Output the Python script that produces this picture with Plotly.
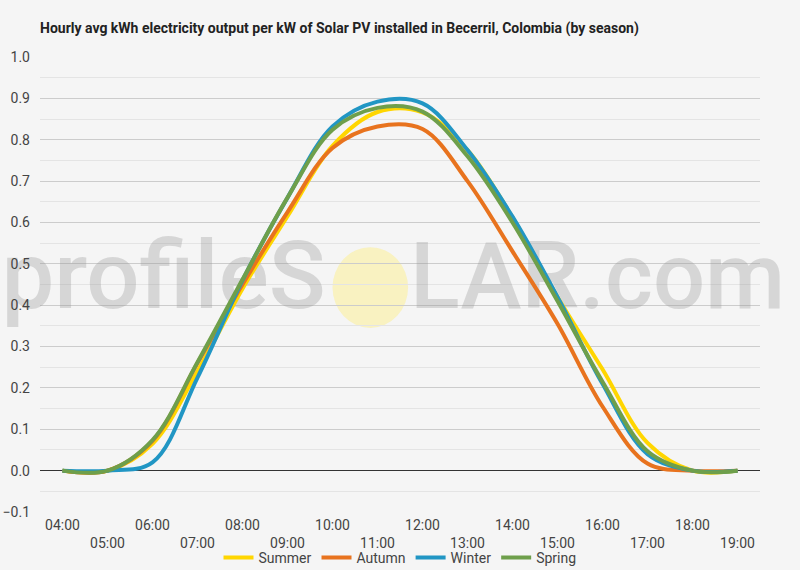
import plotly.graph_objects as go

hours = ["04:00", "05:00", "06:00", "07:00", "08:00", "09:00", "10:00", "11:00",
         "12:00", "13:00", "14:00", "15:00", "16:00", "17:00", "18:00", "19:00"]

summer = [0.0, 0.0, 0.065, 0.24, 0.44, 0.615, 0.785, 0.867, 0.866, 0.775, 0.612, 0.42, 0.245, 0.067, 0.0, 0.0]
autumn = [0.0, 0.0, 0.072, 0.26, 0.45, 0.625, 0.78, 0.832, 0.826, 0.70, 0.53, 0.355, 0.155, 0.017, 0.0, 0.0]
winter = [0.0, 0.0, 0.02, 0.225, 0.46, 0.66, 0.832, 0.892, 0.888, 0.775, 0.614, 0.42, 0.21, 0.04, 0.0, 0.0]
spring = [0.0, 0.0, 0.074, 0.262, 0.462, 0.66, 0.824, 0.877, 0.868, 0.76, 0.60, 0.41, 0.215, 0.047, 0.0, 0.0]

series = [("Summer", summer, "#FFD600"),
          ("Autumn", autumn, "#E8731E"),
          ("Winter", winter, "#2196C4"),
          ("Spring", spring, "#6E9F4B")]

y_ticks = [-0.1, 0.0, 0.1, 0.2, 0.3, 0.4, 0.5, 0.6, 0.7, 0.8, 0.9, 1.0]

xidx = list(range(len(hours)))
even_idx = xidx[0::2]
odd_idx = xidx[1::2]

fig = go.Figure()

# watermark (drawn first so the data lines sit on top)
wm_color = "rgba(150,150,150,0.32)"
fig.add_trace(go.Scatter(x=[5.85], y=[0.45], mode="text", text=["profileS"],
                         textposition="middle left", hoverinfo="skip", showlegend=False,
                         cliponaxis=False,
                         textfont=dict(family="Roboto", size=94, color=wm_color, weight=500)))
fig.add_trace(go.Scatter(x=[7.72], y=[0.45], mode="text", text=["LAR.com"],
                         textposition="middle right", hoverinfo="skip", showlegend=False,
                         cliponaxis=False,
                         textfont=dict(family="Roboto", size=92, color=wm_color, weight=500)))

for name, vals, color in series:
    fig.add_trace(go.Scatter(x=xidx, y=vals, name=name, mode="lines",
                             line=dict(color=color, width=4, shape="spline", smoothing=1.0)))

# invisible carrier so the second (staggered) hour-label axis is drawn
fig.add_trace(go.Scatter(x=odd_idx, y=[None] * len(odd_idx), xaxis="x2", yaxis="y",
                         mode="lines", hoverinfo="skip", showlegend=False))

fig.add_shape(type="circle", xref="x", yref="y", layer="below",
              x0=6.0, x1=7.68, y0=0.54, y1=0.345,
              fillcolor="rgba(250,240,175,0.75)", line=dict(width=0))

fig.update_layout(
    width=800, height=570,
    margin=dict(l=40, r=40, t=57, b=58, autoexpand=False),
    paper_bgcolor="#f5f5f5", plot_bgcolor="#f5f5f5",
    font=dict(family="Roboto", size=14, color="#444"),
    title=dict(text="<b>Hourly avg kWh electricity output per kW of Solar PV installed in Becerril, Colombia (by season)</b>",
               x=40 / 800, xref="container", xanchor="left",
               y=1 - 28 / 570, yref="container", yanchor="middle",
               font=dict(family="Roboto", size=14, color="#222")),
    showlegend=True,
    legend=dict(orientation="h", x=0.5, xref="container", xanchor="center",
                y=(570 - 558) / 570, yref="container", yanchor="middle",
                font=dict(size=14, color="#444"), bgcolor="rgba(0,0,0,0)",
                itemwidth=30, traceorder="normal"),
    xaxis=dict(range=[-0.5, 15.5], tickmode="array", tickvals=even_idx,
               ticktext=[hours[i] for i in even_idx],
               showgrid=False, zeroline=False, showline=False, ticks="",
               ticklabelstandoff=3, automargin=False,
               tickfont=dict(size=14, color="#444"), fixedrange=True),
    xaxis2=dict(range=[-0.5, 15.5], tickmode="array", tickvals=odd_idx,
                ticktext=[hours[i] for i in odd_idx], overlaying="x", anchor="y", side="bottom",
                showgrid=False, zeroline=False, showline=False, ticks="",
                ticklabelstandoff=21, automargin=False,
                tickfont=dict(size=14, color="#444"), fixedrange=True),
    yaxis=dict(range=[-0.1, 1.0], tickmode="array", tickvals=y_ticks, tickformat=".1f",
               showgrid=True, gridcolor="#cccccc", gridwidth=1,
               zeroline=True, zerolinecolor="#333333", zerolinewidth=1,
               showline=False, ticks="", ticklabelstandoff=9, automargin=False,
               minor=dict(dtick=0.05, tick0=0, showgrid=True, gridcolor="#e4e4e4", gridwidth=1),
               tickfont=dict(size=14, color="#444"), fixedrange=True),
)

fig.write_html("out.html")
